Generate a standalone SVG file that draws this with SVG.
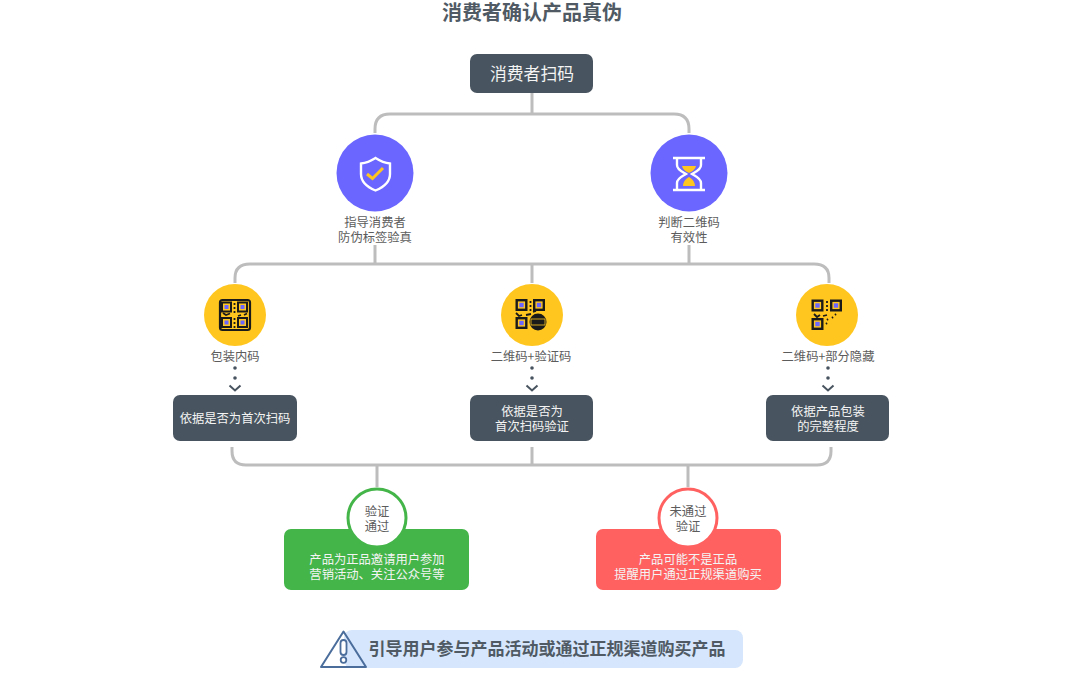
<svg xmlns="http://www.w3.org/2000/svg" width="1081" height="678" viewBox="0 0 1081 678">
<defs>
<style>
text{font-family:"Noto Sans CJK SC","Noto Sans",sans-serif;text-anchor:middle}
.title{font-size:20px;font-weight:700;fill:#4f5a64}
.lab{font-size:12.300px;fill:#5c5c5c}
.w{font-size:12.300px;fill:#f4f4f4}
.w15{font-size:16.800px;fill:#f4f4f4}
.dark{fill:#48545f}
.conn{fill:none;stroke:#bdbdbd;stroke-width:3}
.dot{fill:#48545f}
.chev{fill:none;stroke:#48545f;stroke-width:2}
.ic{fill:none;stroke:#1a1a1a;stroke-width:2.200}
.bit{fill:none;stroke:#1a1a1a;stroke-width:1.800}
.k{fill:#1a1a1a}
</style>
<g id="qrsmall"><rect x="-4.500" y="-4.500" width="9" height="9" fill="none" stroke="#1a1a1a" stroke-width="2"/><rect x="-2" y="-2" width="4" height="4" fill="#6a66ff"/></g>
<g id="qrfinder"><rect x="-4.800" y="-4.800" width="9.600" height="9.600" fill="none" stroke="#1a1a1a" stroke-width="2.400"/><rect x="-2.200" y="-2.200" width="4.400" height="4.400" fill="#6a66ff"/></g>
<path id="chev" d="M-5.500 -2.500L0 2.500L5.500 -2.500" class="chev"/>
</defs>
<rect width="1081" height="678" fill="#fff"/>
<g id="connectors">
<path class="conn" d="M532 93V113M375 133V129Q375 114 390 114H674Q689 114 689 129V133"/>
<path class="conn" d="M375 245V263M689 245V263M532 263V283M235 283V278Q235 264 250 264H814Q829 264 829 278V283"/>
<path class="conn" d="M232 447V451Q232 465 246 465H817Q831 465 831 451V447M532 447V465M377 465V487M688 465V487"/>
<g>
<circle class="dot" cx="235" cy="368" r="1.800"/><circle class="dot" cx="235" cy="378" r="1.800"/><use href="#chev" x="235" y="388"/>
<circle class="dot" cx="532" cy="368" r="1.800"/><circle class="dot" cx="532" cy="378" r="1.800"/><use href="#chev" x="532" y="388"/>
<circle class="dot" cx="828" cy="368" r="1.800"/><circle class="dot" cx="828" cy="378" r="1.800"/><use href="#chev" x="828" y="388"/>
</g>
</g>
<text class="title" x="532" y="20">消费者确认产品真伪</text>
<g id="start"><rect class="dark" x="470" y="54" width="123" height="39" rx="7"/><text class="w15" x="532" y="80">消费者扫码</text></g>
<g id="guide">
<circle cx="375" cy="173" r="38.500" fill="#6a66ff"/>
<path d="M375.500 158C370 161.500 366 163 361 163.500V174C361 182 367 187 375.500 190.500C384 187 390 182 390 174V163.500C385 163 381 161.500 375.500 158Z" fill="none" stroke="#fff" stroke-width="2.400"/>
<path d="M367 174L372.500 178.500L383 168" fill="none" stroke="#ffc61f" stroke-width="3"/>
<text class="lab" x="375" y="227">指导消费者</text><text class="lab" x="375" y="242">防伪标签验真</text>
</g>
<g id="judge">
<circle cx="689" cy="173" r="38.500" fill="#6a66ff"/>
<path d="M673 158H705M673 190H705" stroke="#fff" stroke-width="2.400" fill="none"/>
<path d="M677 158V165C677 170 683 172 686 174C683 176 677 178 677 183V189M701 158V165C701 170 695 172 692 174C695 176 701 178 701 183V189" stroke="#fff" stroke-width="2.400" fill="none"/>
<path d="M682 166H696C695 170 691 172 689 173C687 172 683 170 682 166ZM683 186C683 181 687 178 689 177C691 178 695 181 695 186Z" fill="#ffc61f"/>
<text class="lab" x="689" y="227">判断二维码</text><text class="lab" x="689" y="242">有效性</text>
</g>
<g id="inner">
<circle cx="235" cy="315" r="31" fill="#ffc61f"/>
<rect x="220" y="300" width="30" height="30" rx="2.500" class="ic"/>
<use href="#qrsmall" x="226.500" y="307"/><use href="#qrsmall" x="242.500" y="307"/><use href="#qrsmall" x="226.500" y="322.500"/><use href="#qrsmall" x="242.500" y="322.500"/>
<path class="bit" d="M234.500 303v2M234.500 307v2M234.500 311v2M223 313l3 2 4-1.500M238 316l3-1M244 315l3-1.500M234.500 318v2M234.500 322v2M234.500 326v2"/>
<text class="lab" x="235" y="361">包装内码</text>
</g>
<g id="verifycode">
<circle cx="532" cy="315" r="31" fill="#ffc61f"/>
<use href="#qrfinder" x="521.500" y="305"/><use href="#qrfinder" x="539" y="305"/><use href="#qrfinder" x="521.500" y="323"/>
<path class="bit" d="M530.500 301v2M530.500 305v2M530.500 309v2M516 313l3 3 3-1M526 315l5-1M533 312l3-1"/>
<circle class="k" cx="538" cy="322" r="8.500"/><rect x="531" y="319" width="14" height="6" fill="none" stroke="#ffc61f" stroke-width=".8"/>
<text class="lab" x="531" y="361">二维码+验证码</text>
</g>
<g id="hidden">
<circle cx="827" cy="315" r="31" fill="#ffc61f"/>
<use href="#qrfinder" x="817.500" y="305.500"/><use href="#qrfinder" x="836" y="305.500"/><use href="#qrfinder" x="817.500" y="324"/>
<path class="bit" d="M827 301v2M827 305v2M827 309v2M814 314l3 3 3-2M823 316l4-1M827 320l1-1M832 318l1-1M835 315l1-1M826 324l1-1"/>
<text class="lab" x="828" y="361">二维码+部分隐藏</text>
</g>
<g id="rule1"><rect class="dark" x="173" y="395" width="124" height="46" rx="7"/><text class="w" x="235" y="423">依据是否为首次扫码</text></g>
<g id="rule2"><rect class="dark" x="470" y="395" width="123" height="46" rx="7"/><text class="w" x="532" y="416">依据是否为</text><text class="w" x="532" y="431">首次扫码验证</text></g>
<g id="rule3"><rect class="dark" x="766" y="395" width="123" height="46" rx="7"/><text class="w" x="828" y="416">依据产品包装</text><text class="w" x="828" y="431">的完整程度</text></g>
<g id="pass">
<rect x="284" y="529" width="185" height="61" rx="7" fill="#44b549"/>
<circle cx="377" cy="518" r="29" fill="#fff" stroke="#44b549" stroke-width="3"/>
<text class="lab" x="377" y="516">验证</text><text class="lab" x="377" y="531">通过</text>
<text class="w" x="377" y="564">产品为正品邀请用户参加</text><text class="w" x="377" y="579">营销活动、关注公众号等</text>
</g>
<g id="fail">
<rect x="596" y="529" width="185" height="61" rx="7" fill="#ff6161"/>
<circle cx="688" cy="518" r="29" fill="#fff" stroke="#ff6161" stroke-width="3"/>
<text class="lab" x="688" y="516">未通过</text><text class="lab" x="688" y="531">验证</text>
<text class="w" x="688" y="564">产品可能不是正品</text><text class="w" x="688" y="579">提醒用户通过正规渠道购买</text>
</g>
<g id="summary">
<rect x="344" y="630" width="399" height="38" rx="8" fill="#d6e6fc"/>
<path d="M343.500 631.500L366 667H321Z" fill="none" stroke="#4a6d9c" stroke-width="2" stroke-linejoin="round"/>
<rect x="340.500" y="640" width="6" height="15" rx="3" fill="#fff" stroke="#4a6d9c" stroke-width="1.800"/>
<circle cx="343.500" cy="660" r="2.800" fill="#fff" stroke="#4a6d9c" stroke-width="1.800"/>
<text x="547" y="654.500" font-size="17" font-weight="700" fill="#4f5a64">引导用户参与产品活动或通过正规渠道购买产品</text>
</g>
</svg>
